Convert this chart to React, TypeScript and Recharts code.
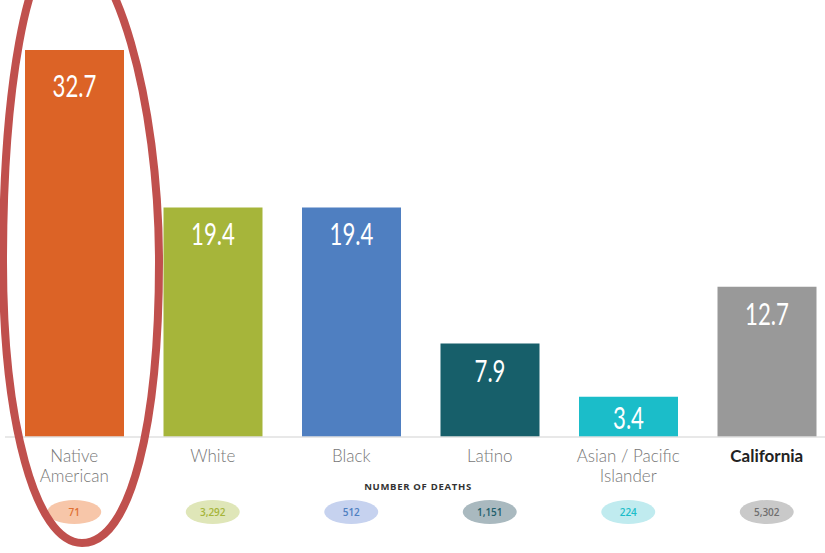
import { BarChart, Bar, XAxis, YAxis, Cell, LabelList } from "recharts";

const CATEGORIES = ["Native American", "White", "Black", "Latino", "Asian / Pacific Islander", "California"];
const RATES = [32.7, 19.4, 19.4, 7.9, 3.4, 12.7];
const DEATHS = ["71", "3,292", "512", "1,151", "224", "5,302"];

const BAR_COLORS = ["#dc6326", "#a6b53a", "#4f7fc1", "#175f6a", "#1bbdc9", "#999999"];
const PILL_FILL = ["#f7c6a9", "#dfe6b8", "#c6d2ef", "#a9b9bf", "#c0ebef", "#c9c9c9"];
const PILL_TEXT = ["#e07032", "#a6b53a", "#4f7fc1", "#1e5f6c", "#1bbdc9", "#6f6f6f"];

const LABEL_LINES: Record<string, string[]> = {
  "Native American": ["Native", "American"],
  "Asian / Pacific Islander": ["Asian / Pacific", "Islander"],
};

const data = CATEGORIES.map((name, i) => ({ name, rate: RATES[i], deaths: DEATHS[i] }));

function CategoryTick(props: any) {
  const { x, y, payload, index } = props;
  const name: string = payload.value;
  const lines = LABEL_LINES[name] ?? [name];
  const bold = name === "California";
  return (
    <g>
      {lines.map((l, j) => (
        <text
          key={l}
          x={x}
          y={y + 25 + j * 20}
          textAnchor="middle"
          fontFamily="Lato, 'Open Sans', sans-serif"
          fontSize={17}
          fontWeight={bold ? 700 : 300}
          fill={bold ? "#222" : "#777"}
        >
          {l}
        </text>
      ))}
      <ellipse cx={x} cy={y + 75} rx={27} ry={12} fill={PILL_FILL[index]} />
      <text
        x={x}
        y={y + 79}
        textAnchor="middle"
        fontFamily="'Open Sans', sans-serif"
        fontSize={10}
        fontWeight={600}
        fill={PILL_TEXT[index]}
      >
        {DEATHS[index]}
      </text>
    </g>
  );
}

function ValueLabel(props: any) {
  const { x, y, width, height, value } = props;
  // label sits lower in the tall bar, higher in the short one
  const off = height > 300 ? 47 : height < 60 ? 32 : 38;
  return (
    <text
      transform={`translate(${x + width / 2}, ${y + off}) scale(0.74, 1)`}
      x={0}
      y={0}
      textAnchor="middle"
      fontFamily="Lato, 'Open Sans', sans-serif"
      fontSize={30}
      fill="#fff"
    >
      {value}
    </text>
  );
}

export default function App() {
  return (
    <div style={{ position: "absolute", left: 0, top: 0, width: 825, height: 553, overflow: "hidden", background: "#fff" }}>
      <BarChart
        width={840}
        height={553}
        data={data}
        margin={{ top: 22.8, right: 4, left: 5, bottom: 0 }}
      >
        <XAxis
          dataKey="name"
          height={116}
          interval={0}
          tickSize={0}
          tickMargin={0}
          tickLine={false}
          axisLine={{ stroke: "#e0e0e0", strokeWidth: 1.5 }}
          tick={<CategoryTick />}
        />
        <YAxis hide domain={[0, 35]} />
        <Bar dataKey="rate" barSize={99} isAnimationActive={false}>
          {data.map((d, i) => (
            <Cell key={d.name} fill={BAR_COLORS[i]} />
          ))}
          <LabelList dataKey="rate" content={<ValueLabel />} />
        </Bar>
      </BarChart>
      <svg width={825} height={553} style={{ position: "absolute", left: 0, top: 0, pointerEvents: "none" }}>
        <text
          x={418}
          y={490}
          textAnchor="middle"
          fontFamily="'Open Sans', sans-serif"
          fontSize={9.5}
          fontWeight={700}
          letterSpacing={0.7}
          fill="#333"
        >
          NUMBER OF DEATHS
        </text>
        <path
          d="M 82 543 C 35 543 3 420 3 262 C 3 100 25 -55 66 -55 C 115 -55 159 100 159 262 C 159 420 132 543 82 543 Z"
          fill="none"
          stroke="#c0504d"
          strokeWidth={8}
        />
      </svg>
    </div>
  );
}
